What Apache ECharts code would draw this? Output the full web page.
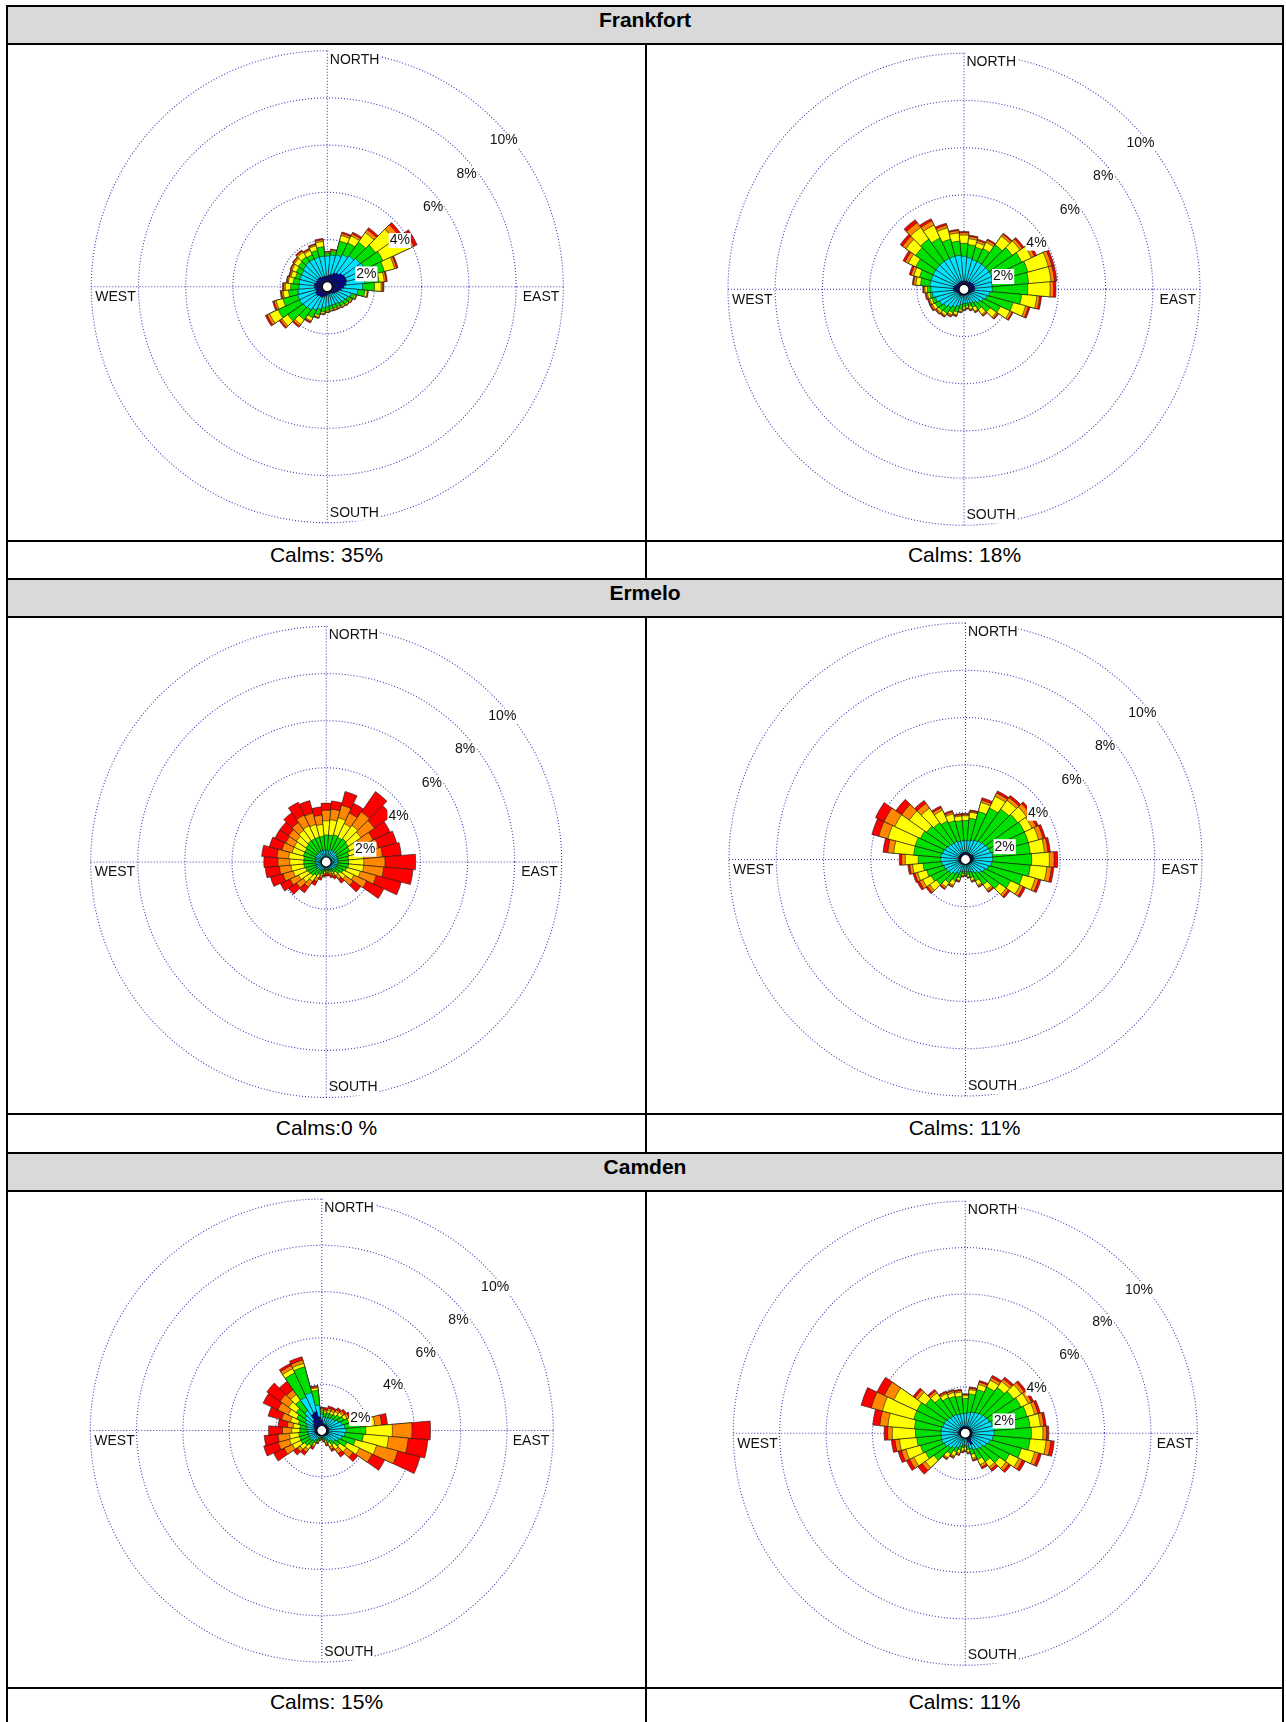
<!DOCTYPE html>
<html>
<head>
<meta charset="utf-8">
<title>Wind roses</title>
<script src="https://cdn.jsdelivr.net/npm/echarts@6.0.0/dist/echarts.min.js"></script>
<style>
body{margin:0;background:#fff;font-family:Arial,"Liberation Sans",sans-serif;}
#page{position:relative;width:1286px;height:1722px;overflow:hidden;background:#fff;}
.ln{position:absolute;background:#000;}
.head{position:absolute;background:#d9d9d9;font-weight:bold;font-size:21px;text-align:center;color:#000;}
.calm{position:absolute;font-size:21px;text-align:center;color:#000;}
#container{position:absolute;left:0;top:0;width:1286px;height:1722px;}
</style>
</head>
<body>
<div id="page"><div id="container"></div></div>
<script>
var stations = ['Frankfort', 'Ermelo', 'Camden'];
var calms = ['Calms: 35%', 'Calms: 18%', 'Calms:0 %', 'Calms: 11%', 'Calms: 15%', 'Calms: 11%'];
var compass = ['NORTH', 'EAST', 'SOUTH', 'WEST'];
var ringTicks = [2, 4, 6, 8, 10];
var dirs = ['0','10','20','30','40','50','60','70','80','90','100','110','120','130','140','150','160','170',
	'180','190','200','210','220','230','240','250','260','270','280','290','300','310','320','330','340','350'];

// cumulative frequency (%) up to each speed class, per 10 degree sector
var frankfortL_navy = [0.45,0.5,0.55,0.65,0.7,0.8,0.85,0.85,0.8,0.7,0.6,0.5,0.45,0.4,0.35,0.3,0.3,0.3,0.35,0.4,0.45,0.5,0.5,0.55,0.55,0.5,0.5,0.55,0.55,0.5,0.5,0.5,0.5,0.45,0.45,0.45];
var frankfortL_cyan = [1.3,1.35,1.4,1.5,1.6,1.7,1.75,1.7,1.6,1.5,1.3,1.05,0.95,0.9,0.85,0.8,0.8,0.8,0.85,0.9,1.0,1.1,1.2,1.25,1.3,1.3,1.25,1.2,1.2,1.2,1.2,1.25,1.3,1.3,1.3,1.3];
var frankfortL_green = [1.42,1.5,2.0,2.05,2.3,2.5,2.6,2.5,2.2,2.0,1.6,1.2,1.1,1.05,1.0,0.95,0.95,0.95,1.0,1.08,1.25,1.45,1.7,2.05,2.3,1.95,1.65,1.55,1.45,1.4,1.45,1.5,1.55,1.5,1.6,1.7];
var frankfortL_yellow = [1.46,1.55,2.25,2.38,2.8,3.45,3.85,2.95,2.42,2.28,1.7,1.26,1.16,1.11,1.06,1.01,1.01,1.01,1.06,1.15,1.34,1.6,1.95,2.35,2.7,2.25,1.88,1.78,1.66,1.6,1.65,1.7,1.78,1.7,1.8,1.92];
var frankfortL_orange = [1.48,1.58,2.34,2.48,2.95,3.72,4.05,3.04,2.5,2.35,1.73,1.28,1.18,1.13,1.08,1.03,1.03,1.03,1.08,1.18,1.37,1.65,2.04,2.44,2.82,2.34,1.95,1.85,1.71,1.66,1.71,1.76,1.85,1.76,1.86,2.0];
var frankfortL_red = [1.5,1.6,2.4,2.55,3.05,3.85,4.2,3.1,2.55,2.4,1.75,1.3,1.2,1.15,1.1,1.05,1.05,1.05,1.1,1.2,1.4,1.7,2.1,2.5,2.9,2.4,2.0,1.9,1.75,1.7,1.75,1.8,1.9,1.8,1.9,2.05];

var frankfortR_navy = [0.35,0.35,0.35,0.35,0.4,0.4,0.45,0.45,0.45,0.45,0.4,0.35,0.3,0.3,0.25,0.25,0.25,0.25,0.25,0.25,0.25,0.3,0.3,0.3,0.3,0.35,0.4,0.45,0.45,0.4,0.35,0.35,0.35,0.35,0.35,0.35];
var frankfortR_cyan = [1.4,1.35,1.3,1.3,1.3,1.3,1.3,1.25,1.2,1.2,1.1,1.0,0.9,0.8,0.7,0.65,0.6,0.6,0.6,0.65,0.75,0.85,0.95,1.05,1.15,1.25,1.35,1.4,1.45,1.45,1.45,1.45,1.45,1.45,1.45,1.45];
var frankfortR_green = [1.95,1.9,1.85,1.9,2.3,2.5,2.7,2.8,2.75,2.7,2.45,2.15,1.7,1.35,1.05,0.85,0.75,0.7,0.75,0.85,1.0,1.1,1.25,1.3,1.35,1.4,1.45,1.55,1.85,1.95,2.25,2.5,2.6,2.4,2.2,2.05];
var frankfortR_yellow = [2.3,2.15,2.05,2.2,2.75,2.9,3.15,3.7,3.7,3.65,3.1,2.7,2.15,1.68,1.3,1.02,0.88,0.79,0.84,0.94,1.12,1.2,1.36,1.4,1.48,1.5,1.55,1.65,2.05,2.2,2.6,3.0,3.2,3.0,2.7,2.4];
var frankfortR_orange = [2.4,2.25,2.15,2.3,2.85,3.02,3.3,3.85,3.85,3.8,3.22,2.82,2.25,1.75,1.36,1.07,0.92,0.82,0.87,0.97,1.16,1.26,1.41,1.46,1.55,1.56,1.61,1.71,2.15,2.32,2.75,3.18,3.45,3.2,2.82,2.5];
var frankfortR_red = [2.45,2.3,2.2,2.35,2.9,3.1,3.4,3.95,3.95,3.9,3.3,2.9,2.3,1.8,1.4,1.1,0.95,0.85,0.9,1.0,1.2,1.3,1.45,1.5,1.6,1.6,1.65,1.75,2.2,2.4,2.85,3.3,3.6,3.3,2.9,2.55];

var ermeloL_navy = [0.1,0.1,0.1,0.1,0.1,0.1,0.1,0.1,0.1,0.1,0.1,0.1,0.1,0.1,0.1,0.1,0.1,0.1,0.1,0.1,0.1,0.1,0.1,0.1,0.1,0.1,0.1,0.1,0.1,0.1,0.1,0.1,0.1,0.1,0.1,0.1];
var ermeloL_cyan = [0.5,0.5,0.55,0.55,0.55,0.55,0.5,0.5,0.5,0.5,0.5,0.45,0.45,0.4,0.35,0.35,0.3,0.3,0.3,0.3,0.35,0.4,0.4,0.45,0.45,0.45,0.45,0.45,0.45,0.45,0.5,0.5,0.5,0.5,0.5,0.5];
var ermeloL_green = [1.15,1.15,1.2,1.15,1.2,1.15,1.1,1.0,0.95,0.95,0.95,0.9,0.8,0.7,0.55,0.45,0.4,0.38,0.38,0.4,0.5,0.6,0.7,0.8,0.85,0.9,0.95,0.95,0.95,1.0,1.0,1.05,1.1,1.1,1.1,1.1];
var ermeloL_yellow = [1.75,1.8,1.95,1.8,1.9,1.8,1.6,1.6,1.6,1.6,1.6,1.5,1.3,1.0,0.7,0.55,0.5,0.45,0.45,0.5,0.6,0.75,1.0,1.2,1.3,1.45,1.5,1.55,1.6,1.5,1.5,1.55,1.65,1.7,1.65,1.6];
var ermeloL_orange = [2.2,2.25,2.5,2.3,2.6,2.5,2.2,2.3,2.4,2.5,2.45,2.2,1.9,1.4,0.9,0.68,0.6,0.52,0.52,0.57,0.7,0.92,1.3,1.55,1.7,1.9,2.0,2.05,2.1,1.95,1.9,1.95,2.05,2.2,2.15,2.0];
var ermeloL_red = [2.5,2.6,3.1,2.75,3.65,3.4,3.0,3.1,3.2,3.8,3.7,3.3,2.7,1.8,1.1,0.8,0.7,0.6,0.6,0.65,0.8,1.1,1.6,1.95,2.15,2.45,2.6,2.65,2.75,2.5,2.4,2.4,2.55,2.8,2.7,2.35];

var ermeloR_navy = [0.3,0.3,0.3,0.3,0.3,0.3,0.35,0.35,0.35,0.35,0.3,0.3,0.25,0.25,0.25,0.2,0.2,0.2,0.2,0.2,0.2,0.2,0.25,0.25,0.25,0.3,0.3,0.3,0.3,0.3,0.3,0.3,0.3,0.3,0.3,0.3];
var ermeloR_cyan = [0.8,0.8,0.85,0.9,0.95,1.0,1.05,1.1,1.15,1.15,1.1,1.0,0.9,0.8,0.7,0.6,0.55,0.5,0.5,0.5,0.55,0.65,0.75,0.85,0.9,0.95,1.0,1.05,1.05,1.0,0.95,0.9,0.85,0.85,0.8,0.8];
var ermeloR_green = [1.65,1.75,2.1,2.4,2.6,2.7,2.75,2.75,2.75,2.8,2.75,2.5,2.1,1.75,1.3,1.0,0.8,0.65,0.6,0.6,0.8,1.0,1.2,1.5,1.6,1.7,1.8,2.0,2.2,2.2,2.1,2.0,1.9,1.8,1.7,1.65];
var ermeloR_yellow = [1.85,2.0,2.5,2.95,3.05,3.15,3.1,3.2,3.35,3.55,3.45,3.05,2.55,2.1,1.55,1.2,0.92,0.74,0.65,0.68,0.92,1.2,1.42,1.85,2.0,2.1,2.25,2.55,3.05,3.4,3.3,2.9,2.65,2.3,2.0,1.85];
var ermeloR_orange = [1.9,2.05,2.6,3.1,3.2,3.35,3.3,3.4,3.5,3.75,3.65,3.2,2.7,2.22,1.64,1.26,0.96,0.77,0.68,0.72,0.96,1.26,1.5,1.97,2.15,2.22,2.37,2.7,3.3,3.8,3.8,3.3,2.9,2.42,2.08,1.9];
var ermeloR_red = [1.95,2.1,2.7,3.2,3.3,3.45,3.4,3.5,3.6,3.9,3.75,3.3,2.8,2.3,1.7,1.3,1.0,0.8,0.7,0.75,1.0,1.3,1.55,2.05,2.25,2.3,2.45,2.8,3.5,4.1,4.2,3.6,3.05,2.5,2.15,1.95];

var camdenL_navy = [0.45,0.3,0.3,0.3,0.3,0.3,0.3,0.3,0.3,0.3,0.3,0.3,0.3,0.3,0.25,0.25,0.2,0.2,0.2,0.2,0.2,0.25,0.25,0.25,0.3,0.3,0.3,0.3,0.3,0.35,0.4,0.45,0.55,0.8,0.85,0.6];
var camdenL_cyan = [0.7,0.6,0.6,0.6,0.65,0.7,0.8,0.9,1.0,1.05,1.0,0.9,0.8,0.7,0.55,0.45,0.35,0.3,0.3,0.3,0.35,0.45,0.55,0.6,0.6,0.6,0.6,0.6,0.65,0.7,0.8,0.9,1.05,1.6,1.7,1.1];
var camdenL_green = [0.85,0.75,0.8,0.8,0.85,0.95,1.05,1.2,1.7,1.9,1.8,1.5,1.2,0.95,0.75,0.6,0.45,0.37,0.33,0.35,0.45,0.6,0.8,0.9,1.0,1.0,1.0,0.95,0.95,1.05,1.2,1.35,1.6,2.75,2.85,1.75];
var camdenL_yellow = [0.92,0.85,0.9,0.92,1.0,1.1,1.2,1.38,2.3,3.05,2.9,2.45,1.8,1.3,1.0,0.78,0.55,0.42,0.36,0.39,0.52,0.72,1.0,1.15,1.4,1.45,1.4,1.3,1.25,1.4,1.6,1.75,1.9,2.95,3.0,1.85];
var camdenL_orange = [0.96,0.92,1.0,1.02,1.1,1.2,1.3,1.5,2.6,3.9,3.75,3.4,2.4,1.65,1.22,0.9,0.63,0.46,0.38,0.42,0.56,0.8,1.15,1.3,1.8,1.95,1.9,1.7,1.5,1.8,2.1,2.2,2.15,3.1,3.15,1.9];
var camdenL_red = [1.0,1.0,1.1,1.1,1.2,1.3,1.4,1.6,2.85,4.7,4.6,4.4,3.0,1.9,1.4,1.0,0.7,0.5,0.4,0.45,0.6,0.9,1.3,1.5,2.3,2.6,2.5,2.3,1.9,2.4,2.8,2.9,2.6,3.2,3.3,1.95];

var camdenR_navy = [0.3,0.3,0.3,0.3,0.3,0.3,0.3,0.3,0.3,0.3,0.3,0.3,0.3,0.3,0.35,0.55,0.4,0.25,0.2,0.2,0.2,0.2,0.25,0.25,0.25,0.25,0.3,0.3,0.3,0.3,0.3,0.3,0.3,0.3,0.3,0.3];
var camdenR_cyan = [0.85,0.9,0.95,1.0,1.05,1.1,1.15,1.2,1.25,1.25,1.2,1.1,1.0,0.9,0.85,0.8,0.7,0.55,0.5,0.5,0.6,0.7,0.8,0.9,1.0,1.05,1.05,1.05,1.05,1.0,1.0,0.95,0.9,0.9,0.85,0.85];
var camdenR_green = [1.5,1.7,1.95,2.2,2.4,2.55,2.65,2.75,2.8,2.85,2.8,2.5,2.1,1.8,1.5,1.25,0.95,0.7,0.6,0.62,0.75,0.9,1.1,1.65,1.9,2.0,2.1,2.15,2.2,2.3,2.3,2.1,1.85,1.7,1.65,1.6];
var camdenR_yellow = [1.62,1.88,2.18,2.52,2.72,2.95,3.0,3.1,3.25,3.35,3.5,3.1,2.55,2.15,1.78,1.5,1.12,0.82,0.72,0.77,0.9,1.08,1.3,2.1,2.45,2.65,2.85,3.15,3.35,3.7,3.4,2.5,2.12,1.88,1.82,1.78];
var camdenR_orange = [1.67,1.95,2.28,2.65,2.85,3.1,3.15,3.25,3.4,3.5,3.7,3.28,2.72,2.3,1.9,1.62,1.2,0.87,0.77,0.82,0.96,1.15,1.36,2.28,2.65,2.85,3.05,3.35,3.7,4.2,3.85,2.65,2.22,1.95,1.9,1.85];
var camdenR_red = [1.7,2.0,2.35,2.75,2.95,3.2,3.25,3.35,3.5,3.6,3.85,3.4,2.85,2.4,2.0,1.7,1.25,0.9,0.8,0.85,1.0,1.2,1.4,2.5,2.8,3.0,3.2,3.5,4.0,4.65,4.2,2.75,2.3,2.0,1.95,1.9];

// outermost class first so the inner classes are painted over it
var roseData = [
	[frankfortL_red, frankfortL_orange, frankfortL_yellow, frankfortL_green, frankfortL_cyan, frankfortL_navy],
	[frankfortR_red, frankfortR_orange, frankfortR_yellow, frankfortR_green, frankfortR_cyan, frankfortR_navy],
	[ermeloL_red, ermeloL_orange, ermeloL_yellow, ermeloL_green, ermeloL_cyan, ermeloL_navy],
	[ermeloR_red, ermeloR_orange, ermeloR_yellow, ermeloR_green, ermeloR_cyan, ermeloR_navy],
	[camdenL_red, camdenL_orange, camdenL_yellow, camdenL_green, camdenL_cyan, camdenL_navy],
	[camdenR_red, camdenR_orange, camdenR_yellow, camdenR_green, camdenR_cyan, camdenR_navy]
];
var colors = ['#ff0000', '#ff8800', '#ffff00', '#00e000', '#00e5ff', '#00009c'];

// rose centre x, centre y, radius (px)
var layout = [[327.3, 286.7, 236], [964, 289.3, 236], [326.2, 862, 235.5], [965.5, 859.5, 236.5], [321.8, 1430.5, 231.5], [965.3, 1433.2, 232]];

// table
var page = document.getElementById('page');
var chartDiv = document.getElementById('container');
function box(cls, l, t, w, h, txt) {
	var d = document.createElement('div');
	d.className = cls;
	d.style.left = l + 'px';
	d.style.top = t + 'px';
	d.style.width = w + 'px';
	d.style.height = h + 'px';
	if (txt) {
		d.textContent = txt;
		d.style.lineHeight = (h - 11) + 'px';
	}
	page.insertBefore(d, chartDiv);
}
var groupTop = [5, 578, 1152];
for (var g = 0; g < 3; g++) {
	var t = groupTop[g];
	var next = g < 2 ? groupTop[g + 1] : 1726;
	box('head', 8, t + 2, 1274, 36, stations[g]);
	box('calm', 8, t + 537, 637, next - t - 537, calms[g * 2]);
	box('calm', 647, t + 537, 635, next - t - 537, calms[g * 2 + 1]);
	box('ln', 6, t, 1278, 2);
	box('ln', 6, t + 38, 1278, 2);
	box('ln', 6, t + 535, 1278, 2);
	box('ln', 645, t + 38, 2, next - t - 38);
}
box('ln', 6, 5, 2, 1722);
box('ln', 1282, 5, 2, 1722);

var myChart = echarts.init(chartDiv);
var dotted = {color: '#3c3cb4', width: 1.1, type: [1, 2]};
var polars = [], angleAxes = [], radiusAxes = [], series = [], graphics = [];
var txtStyle = {fontSize: 14, fontFamily: 'Arial, "Liberation Sans", sans-serif', fill: '#111', backgroundColor: '#fff'};

function each(arr, fn) {
	for (var i = 0; i < arr.length; i++) fn(arr[i], i);
}

each(layout, function (p, k) {
	var cx = p[0], cy = p[1], r = p[2];
	var b = polars.length;
	// bars
	polars.push({center: [cx, cy], radius: r});
	angleAxes.push({polarIndex: b, type: 'category', data: dirs, startAngle: 95, clockwise: true, show: false});
	radiusAxes.push({polarIndex: b, type: 'value', min: 0, max: 10, show: false});
	// dotted rings and compass lines
	polars.push({center: [cx, cy], radius: r});
	angleAxes.push({
		polarIndex: b + 1, type: 'value', min: 0, max: 360, interval: 90, startAngle: 90, clockwise: true,
		axisLine: {show: false}, axisTick: {show: false}, axisLabel: {show: false},
		splitLine: {show: true, lineStyle: dotted}
	});
	radiusAxes.push({
		polarIndex: b + 1, type: 'value', min: 0, max: 10, interval: 2,
		axisLine: {show: false}, axisTick: {show: false}, axisLabel: {show: false},
		splitLine: {show: true, lineStyle: dotted}
	});
	// ring labels along the NE diagonal
	polars.push({center: [cx - 5.4, cy + 20.6], radius: r});
	angleAxes.push({polarIndex: b + 2, type: 'value', min: 0, max: 360, startAngle: 45, show: false});
	radiusAxes.push({
		polarIndex: b + 2, type: 'value', min: 0, max: 10, interval: 2, z: 10,
		axisLine: {show: false}, axisTick: {show: false}, splitLine: {show: false},
		axisLabel: {
			show: true, margin: 0, align: 'left', verticalAlign: 'middle', showMinLabel: false, showMaxLabel: true,
			fontSize: 14, fontFamily: 'Arial, "Liberation Sans", sans-serif', color: '#111',
			backgroundColor: '#fff', padding: [1, 1, 0, 1],
			formatter: function (v) { return ringTicks.indexOf(v) >= 0 ? v + '%' : ''; }
		}
	});

	each(roseData[k], function (vals, j) {
		series.push({
			type: 'bar', coordinateSystem: 'polar', polarIndex: b,
			data: vals, barGap: '-100%', barCategoryGap: '0%', silent: true, z: 2,
			itemStyle: {color: colors[j], borderColor: '#1a1a1a', borderWidth: 0.6}
		});
	});
	// calm circle
	series.push({
		type: 'scatter', coordinateSystem: 'polar', polarIndex: b, data: [[0, 0]],
		symbol: 'circle', symbolSize: 10, silent: true, z: 5,
		itemStyle: {color: '#fff', borderColor: '#000', borderWidth: 1.2, opacity: 1}
	});

	graphics.push({type: 'text', x: cx + 1.5, y: cy - r - 1, z: 20, silent: true,
		style: echarts.util.extend({text: compass[0], align: 'left', verticalAlign: 'top', padding: [3, 1, 1, 1]}, txtStyle)});
	graphics.push({type: 'text', x: cx + r - 3, y: cy + 2.5, z: 20, silent: true,
		style: echarts.util.extend({text: compass[1], align: 'right', verticalAlign: 'top', padding: [1, 1, 1, 1]}, txtStyle)});
	graphics.push({type: 'text', x: cx + 1.5, y: cy + r - 2, z: 20, silent: true,
		style: echarts.util.extend({text: compass[2], align: 'left', verticalAlign: 'bottom', padding: [1, 1, 1, 1]}, txtStyle)});
	graphics.push({type: 'text', x: cx - r + 3, y: cy + 2.5, z: 20, silent: true,
		style: echarts.util.extend({text: compass[3], align: 'left', verticalAlign: 'top', padding: [1, 1, 1, 1]}, txtStyle)});
});

myChart.setOption({
	backgroundColor: 'transparent',
	animation: false,
	polar: polars,
	angleAxis: angleAxes,
	radiusAxis: radiusAxes,
	series: series,
	graphic: graphics
});
</script>
</body>
</html>
